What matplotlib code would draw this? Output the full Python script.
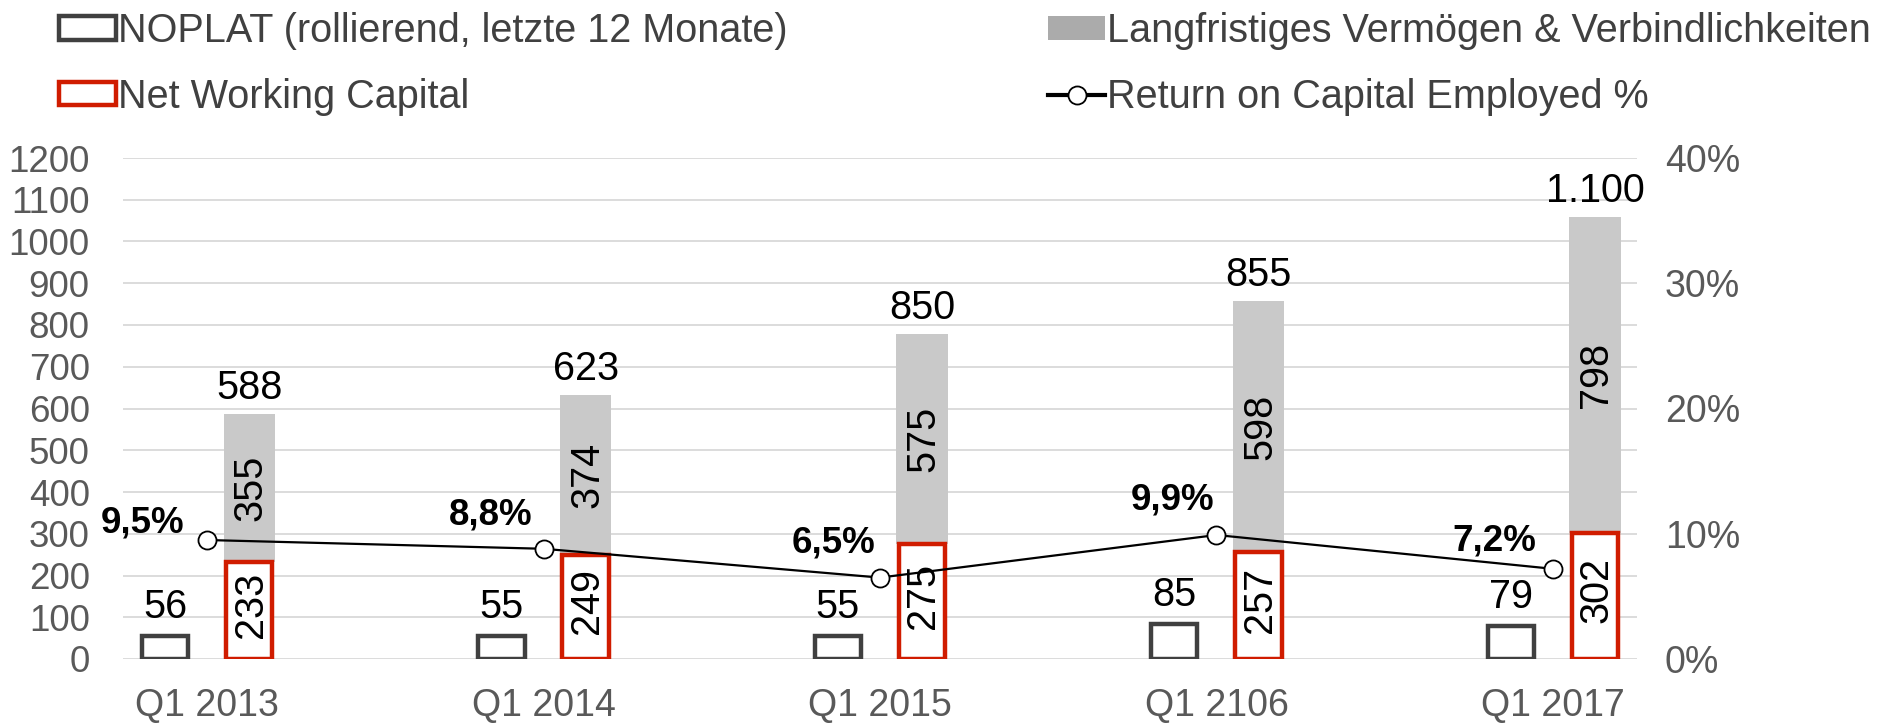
import matplotlib
matplotlib.use("Agg")
import matplotlib.pyplot as plt
from matplotlib.lines import Line2D
from matplotlib.patches import Patch
from matplotlib.ticker import PercentFormatter
import numpy as np

plt.rcParams["font.family"] = ["Liberation Sans", "DejaVu Sans"]

quarters = ["Q1 2013", "Q1 2014", "Q1 2015", "Q1 2106", "Q1 2017"]
noplat = [56, 55, 55, 85, 79]
nwc = [233, 249, 275, 257, 302]
# grey segment: height as drawn in the source vs. the number printed on it (they differ there)
lv_drawn = [355, 384, 503, 600, 756]
lv_label = [355, 374, 575, 598, 798]
total_label = ["588", "623", "850", "855", "1.100"]
roce = [9.5, 8.8, 6.5, 9.9, 7.2]
roce_label = ["9,5%", "8,8%", "6,5%", "9,9%", "7,2%"]

# label placement next to the ROCE markers (points), as positioned in the source
roce_lbl_off = [(-16.5, 12), (-8, 24.5), (-3.5, 25), (-1.5, 25), (-12, 20)]

C_DARK = "#404040"
C_RED = "#D01C00"
C_GREY = "#C9C9C9"
C_TICK = "#595959"

W, H = 1892, 724
fig = plt.figure(figsize=(W / 100, H / 100), dpi=100)
ax = fig.add_axes([123 / W, 1 - 659 / H, (1637 - 123) / W, (659 - 158) / H])

x = np.arange(len(quarters))
ax.set_xlim(-0.25, len(quarters) - 0.75)
ax.set_ylim(0, 1200)
ax.set_yticks(range(0, 1300, 100))
ax.grid(axis="y", color="#D9D9D9", lw=1.3)
ax.set_axisbelow(True)
for s in ax.spines.values():
    s.set_visible(False)
ax.set_xticks(x)
ax.set_xticklabels(quarters)
ax.tick_params(axis="y", length=0, labelsize=26.5, labelcolor=C_TICK, pad=24)
ax.tick_params(axis="x", length=0, labelsize=27, labelcolor=C_TICK, pad=21)

off = 0.125
nwc_arr = np.array(nwc)
lv_arr = np.array(lv_drawn)
ax.bar(x - off, noplat, 0.137, color="white", edgecolor=C_DARK, lw=3.2, zorder=3)
ax.bar(x + off, lv_arr, 0.152, bottom=nwc_arr, color=C_GREY, zorder=3)
ax.bar(x + off, nwc_arr, 0.138, color="white", edgecolor=C_RED, lw=3.2, zorder=4)

fs_val = 28.5
for i in range(len(x)):
    ax.annotate(str(noplat[i]), (x[i] - off, noplat[i]), xytext=(0, 7),
                textcoords="offset points", ha="center", va="bottom", fontsize=fs_val)
    ax.annotate(str(nwc[i]), (x[i] + off, nwc[i] / 2), xytext=(1, 4),
                textcoords="offset points", rotation=90, ha="center",
                va="center", fontsize=fs_val, zorder=5)
    ax.annotate(str(lv_label[i]), (x[i] + off, nwc[i] + lv_drawn[i] / 2), xytext=(1, 0),
                textcoords="offset points", rotation=90, ha="center",
                va="center", fontsize=fs_val, zorder=5)
    ax.annotate(total_label[i], (x[i] + off, nwc[i] + lv_drawn[i]), xytext=(0, 5),
                textcoords="offset points", ha="center", va="bottom", fontsize=fs_val)

ax2 = ax.twinx()
ax2.set_ylim(0, 0.4)
ax2.set_yticks([0, 0.1, 0.2, 0.3, 0.4])
ax2.yaxis.set_major_formatter(PercentFormatter(1.0, decimals=0))
for s in ax2.spines.values():
    s.set_visible(False)
ax2.tick_params(axis="y", length=0, labelsize=27, labelcolor=C_TICK, pad=20)
roce_frac = np.array(roce) / 100
ax2.plot(x, roce_frac, color="black", lw=1.6, marker="o", ms=13,
         mfc="white", mec="black", mew=1.3, zorder=6)
for i in range(len(x)):
    ax2.annotate(roce_label[i], (x[i], roce_frac[i]), xytext=roce_lbl_off[i],
                 textcoords="offset points", ha="right", va="center",
                 fontsize=26.5, fontweight="bold")

handles = [
    Patch(facecolor="white", edgecolor=C_DARK, lw=3.2),
    Patch(facecolor="white", edgecolor=C_RED, lw=3.2),
    Patch(facecolor="#ABABAB"),
    Line2D([], [], color="black", lw=3, marker="o", ms=13, mfc="white", mec="black", mew=1.3),
]
labels = ["NOPLAT (rollierend, letzte 12 Monate)", "Net Working Capital",
          "Langfristiges Vermögen & Verbindlichkeiten", "Return on Capital Employed %"]
leg = fig.legend(handles, labels, loc="upper left", bbox_to_anchor=(53 / W, 1 - 6 / H), ncol=2,
                 frameon=False, fontsize=28.5, handlelength=1.43, handleheight=0.54,
                 handletextpad=0.05, columnspacing=6.6, labelspacing=0.7,
                 borderaxespad=0, borderpad=0.15)
for t in leg.get_texts():
    t.set_color(C_DARK)

fig.savefig("out.png", dpi=100)
